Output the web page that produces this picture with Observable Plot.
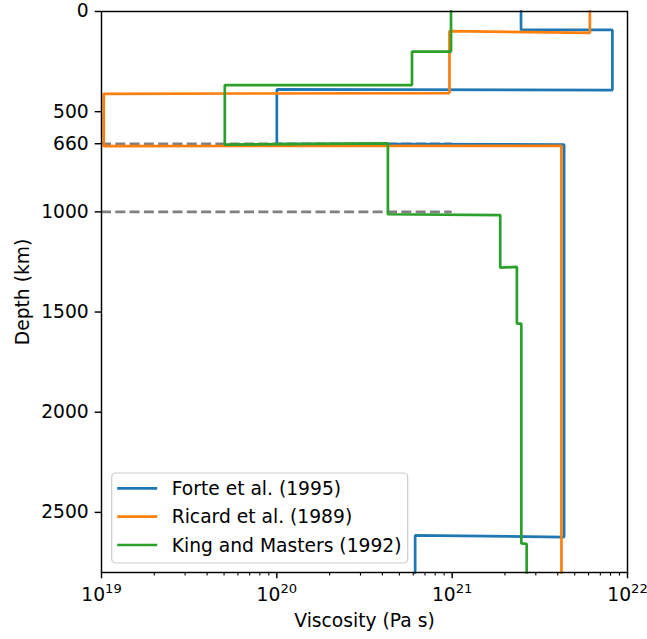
<!DOCTYPE html>
<html><head><meta charset="utf-8">
<script src="https://cdn.jsdelivr.net/npm/d3@7"></script>
<script src="https://cdn.jsdelivr.net/npm/@observablehq/plot@0.6"></script>
<style>body{margin:0;background:#fff;} svg{display:block;}</style>
</head><body><div id="chart"></div>
<script>
// ---- data ----
const seriesNames = ["Forte et al. (1995)", "Ricard et al. (1989)", "King and Masters (1992)"];
const seriesColors = ["#1f77b4", "#ff7f0e", "#2ca02c"];

const forteVisc  = [2.47e21, 2.47e21, 8.2e21, 8.2e21, 1e20, 1e20, 4.35e21, 4.35e21, 6.15e20, 6.15e20];
const forteDepth = [0, 92, 92, 392, 389, 660, 664, 2623, 2615, 2800];

const ricardVisc  = [6.1e21, 6.1e21, 9.65e20, 9.65e20, 1.03e19, 1.03e19, 4.2e21, 4.2e21];
const ricardDepth = [0, 107, 98, 407, 411, 672, 670, 2800];

const kingVisc  = [9.85e20, 9.85e20, 5.9e20, 5.9e20, 5.05e19, 5.05e19, 4.3e20, 4.3e20, 1.88e21, 1.88e21, 2.34e21, 2.34e21, 2.48e21, 2.48e21, 2.66e21, 2.66e21];
const kingDepth = [0, 200, 200, 367, 367, 664, 658, 1012, 1016, 1278, 1275, 1558, 1558, 2655, 2657, 2800];

const boundaryDepths = [660, 1000];
const boundaryRange = [1e19, 1e21];

const yTicks = [0, 500, 660, 1000, 1500, 2000, 2500];
const xMajorTicks = [1e19, 1e20, 1e21, 1e22];
const xMinorTicks = [];
for (const dec of [1e19, 1e20, 1e21]) for (const m of [2,3,4,5,6,7,8,9]) xMinorTicks.push(m * dec);

// ---- build table ----
const toRows = (name, V, D) => V.map((v, i) => ({series: name, visc: v, depth: D[i]}));
const rows = [
  ...toRows(seriesNames[0], forteVisc, forteDepth),
  ...toRows(seriesNames[1], ricardVisc, ricardDepth),
  ...toRows(seriesNames[2], kingVisc, kingDepth)
];

const W = 647, H = 639, mL = 101, mR = 20, mT = 11, mB = 67;
const FONT = "DejaVu Sans";
const FS = 18.7;

const chart = Plot.plot({
  width: W, height: H,
  marginLeft: mL, marginRight: mR, marginTop: mT, marginBottom: mB,
  style: {fontFamily: FONT, fontSize: FS + "px", color: "black", background: "white"},
  x: {type: "log", domain: [1e19, 1e22]},
  y: {domain: [0, 2800], reverse: true},
  color: {domain: seriesNames, range: seriesColors},
  marks: [
    Plot.ruleY(boundaryDepths, {x1: boundaryRange[0], x2: boundaryRange[1], stroke: "#808080", strokeWidth: 2.7, strokeDasharray: "10,4.3"}),
    Plot.line(rows, {x: "visc", y: "depth", z: "series", stroke: "series", strokeWidth: 2.7, strokeLinejoin: "miter", strokeLinecap: "square"}),
    Plot.frame({stroke: "black", strokeWidth: 1.45}),
    Plot.axisY(yTicks, {tickSize: 6.3, tickPadding: 6.5, label: null, fontSize: FS, strokeWidth: 1.45, tickFormat: d => String(d)}),
    Plot.axisX(xMinorTicks, {tickSize: 3.6, tickFormat: () => null, label: null, strokeWidth: 1.1}),
    Plot.axisX(xMajorTicks, {tickSize: 6.3, tickPadding: 8.5, label: null, fontSize: FS, strokeWidth: 1.45,
      tickFormat: d => "10^" + Math.round(Math.log10(d))}),
    Plot.text(["Depth (km)"], {text: d => d, frameAnchor: "left", dx: -78, rotate: -90, fontSize: FS, textAnchor: "middle", lineAnchor: "middle"}),
    Plot.text(["Viscosity (Pa s)"], {text: d => d, frameAnchor: "bottom", dy: 49, fontSize: FS, textAnchor: "middle", lineAnchor: "middle"})
  ]
});

const svgns = "http://www.w3.org/2000/svg";
// superscript exponents on x tick labels
d3.select(chart).selectAll("text").each(function() {
  const t = this.textContent;
  if (!t || !t.includes("^")) return;
  const [b, e] = t.split("^");
  this.textContent = b;
  const ts = document.createElementNS(svgns, "tspan");
  ts.setAttribute("dy", "-7.7");
  ts.setAttribute("font-size", (FS * 0.7).toFixed(1));
  ts.textContent = e;
  this.appendChild(ts);
});

// legend inside the plot (lower left)
const svg = d3.select(chart);
const lg = svg.append("g").attr("font-family", FONT).attr("font-size", FS).attr("text-anchor", "start");
const lx = mL + 10.7, ly = 473;
lg.append("rect").attr("x", lx).attr("y", ly).attr("width", 296).attr("height", 90)
  .attr("rx", 4).attr("fill", "white").attr("fill-opacity", 0.8).attr("stroke", "#cccccc").attr("stroke-width", 1.2);
seriesNames.forEach((name, i) => {
  const cy = ly + 15.3 + i * 28.35;
  lg.append("line").attr("x1", lx + 5.5).attr("x2", lx + 45.5).attr("y1", cy).attr("y2", cy)
    .attr("stroke", seriesColors[i]).attr("stroke-width", 2.7);
  lg.append("text").attr("x", lx + 60).attr("y", cy + 6.6).attr("fill", "black").attr("text-anchor", "start").text(name);
});

document.getElementById("chart").appendChild(chart);
</script>
</body></html>
